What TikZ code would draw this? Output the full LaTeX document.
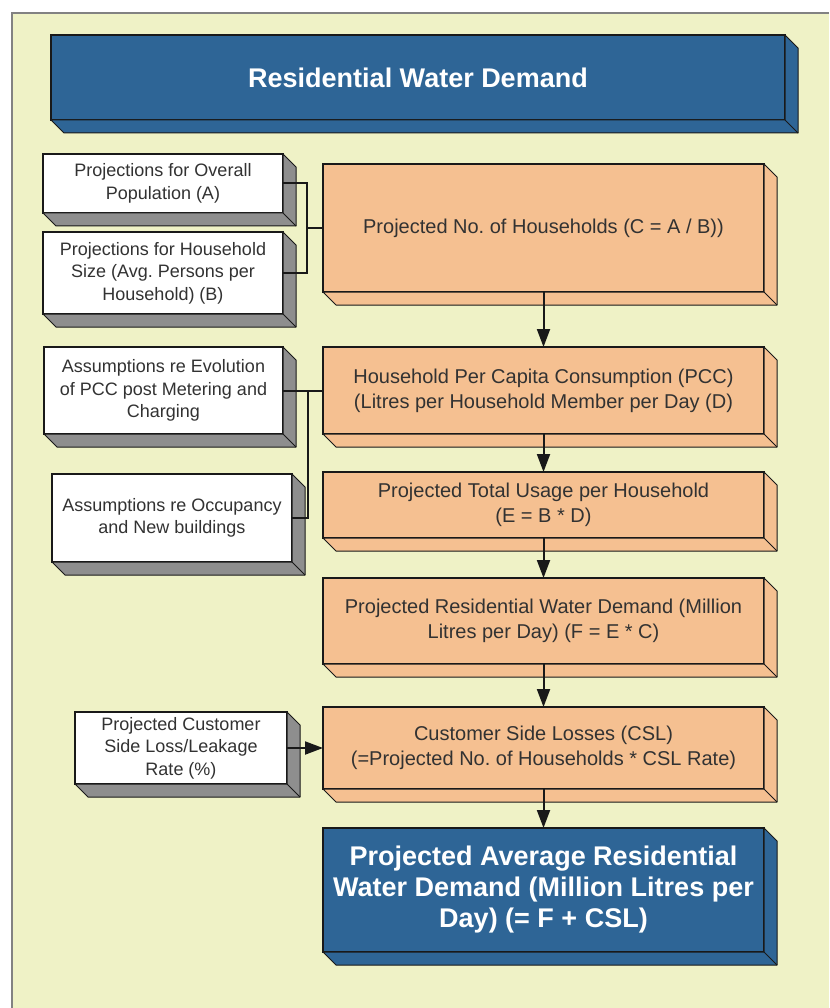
\documentclass[tikz,border=0pt]{standalone}
\usepackage{fontspec}
\setmainfont{Liberation Sans}
\usetikzlibrary{arrows.meta}
\definecolor{bgc}{RGB}{239,242,198}
\definecolor{hblue}{RGB}{46,101,150}
\definecolor{orng}{RGB}{245,192,145}
\definecolor{gext}{RGB}{142,142,142}
\definecolor{edgec}{RGB}{25,25,25}
\definecolor{txtc}{RGB}{50,50,50}
\definecolor{framec}{RGB}{130,130,130}
\frenchspacing
\tikzset{
 face/.style={draw=edgec, line width=1.8pt, outer sep=0pt, inner sep=2pt, align=center},
 leftbox/.style={face, fill=white, text=txtc, minimum width=240pt, font=\fontsize{18}{22.5}\selectfont},
 midbox/.style={face, fill=orng, text=txtc, minimum width=441pt, font=\fontsize{20}{25}\selectfont},
 bluebox/.style={face, fill=hblue, text=white, font=\bfseries\fontsize{27}{31}\selectfont},
 ext/.style={draw=edgec, line width=1pt, line join=round},
 conn/.style={draw=edgec, line width=2pt},
 arr/.style={conn, -{Triangle[length=18pt,width=13pt]}},
}
\newcommand\extrude[2]{%
 \filldraw[ext, fill=#2] (#1.south west) -- ++(13,13) -- ([shift={(13,13)}]#1.south east) -- ([shift={(13,13)}]#1.north east) -- (#1.north east) -- (#1.south east) -- cycle;
 \draw[ext] (#1.south east) -- ++(13,13);
}
\begin{document}
\begin{tikzpicture}[x=1pt,y=-1pt]
\useasboundingbox (0,0) rectangle (829,1008);
\fill[white] (0,0) rectangle (829,1008);
\fill[bgc] (12,13) rectangle (829,1008);
\draw[framec, line width=2pt] (12,1008) -- (12,13) -- (829,13);

\node[bluebox, minimum width=734pt, minimum height=85pt] (H) at (418,77.5) {Residential Water Demand};
\node[leftbox, minimum height=59pt] (A) at (163,183.5) {Projections for Overall\\Population (A)};
\node[leftbox, minimum height=82pt] (B) at (163,273) {Projections for Household\\Size (Avg. Persons per\\Household) (B)};
\node[midbox, minimum height=128pt] (C) at (543.5,228) {Projected No. of Households (C = A / B))};
\node[leftbox, minimum width=239pt, minimum height=87pt] (Ev) at (163.5,390.5) {Assumptions re Evolution\\of PCC post Metering and\\Charging};
\node[midbox, minimum height=87pt] (D) at (543.5,390.5) {Household Per Capita Consumption (PCC)\\(Litres per Household Member per Day (D)};
\node[leftbox, minimum height=88pt] (Oc) at (172,518) {Assumptions re Occupancy\\and New buildings};
\node[midbox, minimum height=66pt] (E) at (543.5,505) {Projected Total Usage per Household\\(E = B * D)};
\node[midbox, minimum height=86pt] (F) at (543.5,621) {Projected Residential Water Demand (Million\\Litres per Day) (F = E * C)};
\node[midbox, minimum height=82pt] (CSL) at (543.5,748) {Customer Side Losses (CSL)\\(=Projected No. of Households * CSL Rate)};
\node[leftbox, minimum width=212pt, minimum height=72pt] (R) at (181,748) {Projected Customer\\Side Loss/Leakage\\Rate (\%)};
\node[bluebox, minimum width=441pt, minimum height=124pt] (G) at (543.5,890) {Projected Average Residential\\Water Demand (Million Litres per\\Day) (= F + CSL)};

\extrude{H}{hblue}
\extrude{A}{gext}
\extrude{B}{gext}
\extrude{C}{orng}
\extrude{Ev}{gext}
\extrude{D}{orng}
\extrude{Oc}{gext}
\extrude{E}{orng}
\extrude{F}{orng}
\extrude{CSL}{orng}
\extrude{R}{gext}
\extrude{G}{hblue}

\coordinate (j1) at (307,228);
\draw[conn] (A.east) -| (j1) |- (B.east);
\draw[conn] (j1) -- (C.west);
\coordinate (j2) at (308,390.5);
\draw[conn] (Ev.east) -- (D.west);
\draw[conn] (j2) |- (Oc.east);
\draw[arr] (C.south) -- (D.north);
\draw[arr] (D.south) -- (E.north);
\draw[arr] (E.south) -- (F.north);
\draw[arr] (F.south) -- (CSL.north);
\draw[arr] (R.east) -- (CSL.west);
\draw[arr] (CSL.south) -- (G.north);
\end{tikzpicture}
\end{document}
